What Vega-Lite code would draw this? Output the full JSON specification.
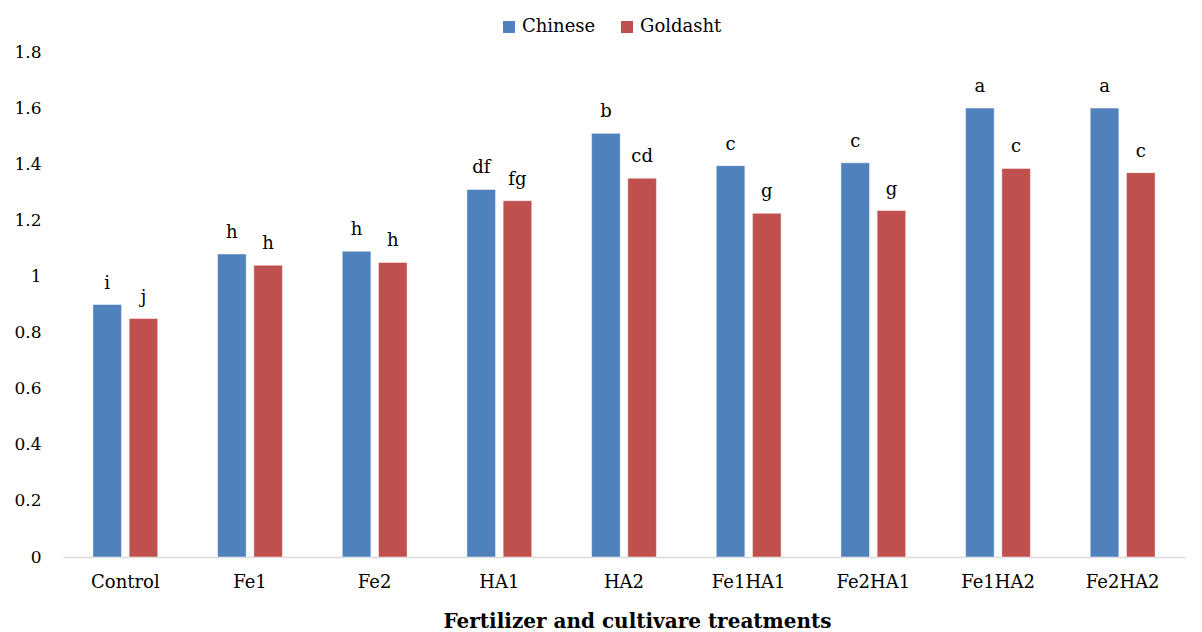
{
  "$schema": "https://vega.github.io/schema/vega-lite/v6.json",
  "width": 1122,
  "height": 505,
  "autosize": {"type": "none"},
  "padding": {"left": 63, "top": 52, "right": 17, "bottom": 75},
  "background": "white",
  "config": {
    "view": {"stroke": null},
    "font": "DejaVu Serif"
  },
  "data": {
    "values": [
      {"treatment": "Control", "cultivar": "Chinese", "value": 0.90, "letter": "i"},
      {"treatment": "Control", "cultivar": "Goldasht", "value": 0.85, "letter": "j"},
      {"treatment": "Fe1", "cultivar": "Chinese", "value": 1.08, "letter": "h"},
      {"treatment": "Fe1", "cultivar": "Goldasht", "value": 1.04, "letter": "h"},
      {"treatment": "Fe2", "cultivar": "Chinese", "value": 1.09, "letter": "h"},
      {"treatment": "Fe2", "cultivar": "Goldasht", "value": 1.05, "letter": "h"},
      {"treatment": "HA1", "cultivar": "Chinese", "value": 1.31, "letter": "df"},
      {"treatment": "HA1", "cultivar": "Goldasht", "value": 1.27, "letter": "fg"},
      {"treatment": "HA2", "cultivar": "Chinese", "value": 1.51, "letter": "b"},
      {"treatment": "HA2", "cultivar": "Goldasht", "value": 1.35, "letter": "cd"},
      {"treatment": "Fe1HA1", "cultivar": "Chinese", "value": 1.395, "letter": "c"},
      {"treatment": "Fe1HA1", "cultivar": "Goldasht", "value": 1.225, "letter": "g"},
      {"treatment": "Fe2HA1", "cultivar": "Chinese", "value": 1.405, "letter": "c"},
      {"treatment": "Fe2HA1", "cultivar": "Goldasht", "value": 1.235, "letter": "g"},
      {"treatment": "Fe1HA2", "cultivar": "Chinese", "value": 1.60, "letter": "a"},
      {"treatment": "Fe1HA2", "cultivar": "Goldasht", "value": 1.385, "letter": "c"},
      {"treatment": "Fe2HA2", "cultivar": "Chinese", "value": 1.60, "letter": "a"},
      {"treatment": "Fe2HA2", "cultivar": "Goldasht", "value": 1.37, "letter": "c"}
    ]
  },
  "encoding": {
    "x": {
      "field": "treatment",
      "type": "nominal",
      "sort": null,
      "scale": {"paddingInner": 0.48, "paddingOuter": 0.24},
      "axis": {
        "title": "Fertilizer and cultivare treatments",
        "titleFont": "DejaVu Serif",
        "titleFontSize": 20,
        "titleFontWeight": "bold",
        "titleColor": "#000000",
        "titleX": 574,
        "titleY": 70,
        "titleBaseline": "alphabetic",
        "labelAngle": 0,
        "labelFont": "DejaVu Serif",
        "labelFontSize": 18,
        "labelColor": "#000000",
        "labelPadding": 16,
        "ticks": false,
        "domainColor": "#D9D9D9",
        "domainWidth": 1.5
      }
    },
    "xOffset": {
      "field": "cultivar",
      "type": "nominal",
      "scale": {"paddingInner": 0.21, "paddingOuter": 0}
    },
    "y": {
      "field": "value",
      "type": "quantitative",
      "scale": {"domain": [0, 1.8], "nice": false},
      "axis": {
        "title": null,
        "values": [0, 0.2, 0.4, 0.6, 0.8, 1, 1.2, 1.4, 1.6, 1.8],
        "format": ".1~f",
        "domain": false,
        "ticks": false,
        "grid": false,
        "labelFont": "DejaVu Serif",
        "labelFontSize": 17,
        "labelColor": "#000000",
        "labelPadding": 22
      }
    }
  },
  "layer": [
    {
      "mark": {"type": "bar", "stroke": "#FFFFFF", "strokeWidth": 0.8, "strokeOpacity": 0.6},
      "encoding": {
        "color": {
          "field": "cultivar",
          "type": "nominal",
          "scale": {"domain": ["Chinese", "Goldasht"], "range": ["#4F81BD", "#C0504D"]},
          "legend": {
            "title": null,
            "orient": "none",
            "direction": "horizontal",
            "legendX": 437,
            "legendY": -34,
            "symbolType": "square",
            "symbolSize": 144,
            "symbolStrokeWidth": 0,
            "labelFont": "DejaVu Serif",
            "labelFontSize": 18,
            "labelColor": "#000000",
            "labelOffset": 4,
            "columnPadding": 22
          }
        }
      }
    },
    {
      "mark": {"type": "text", "baseline": "alphabetic", "dy": -16, "font": "DejaVu Serif", "fontSize": 18, "color": "#000000"},
      "encoding": {
        "text": {"field": "letter", "type": "nominal"}
      }
    }
  ]
}
